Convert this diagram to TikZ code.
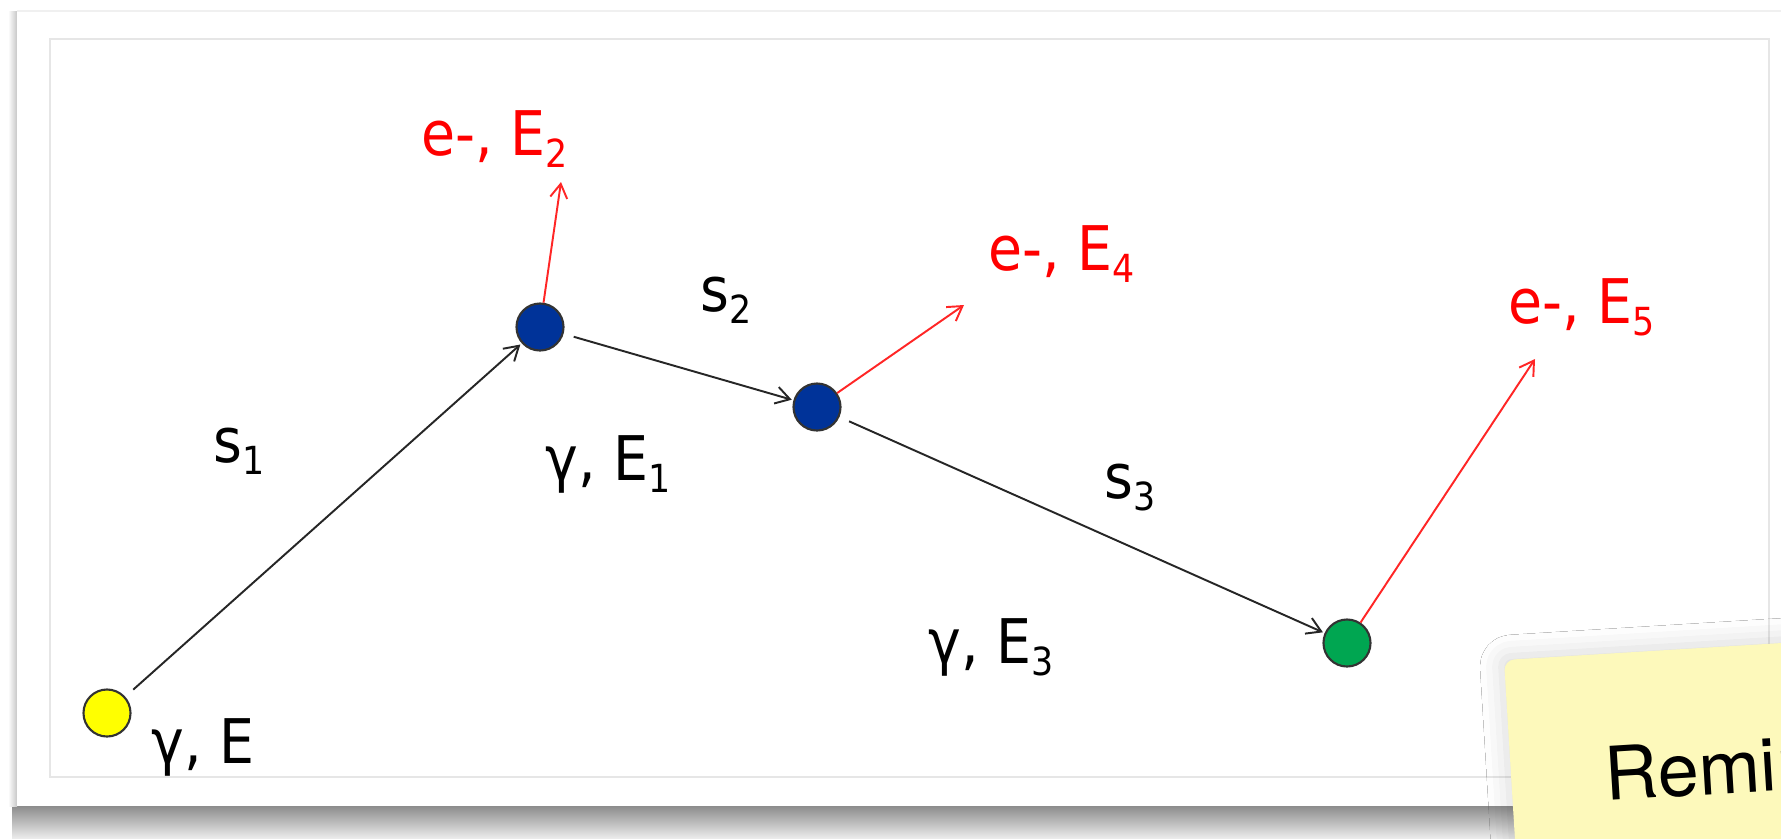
\documentclass[tikz,border=0pt]{standalone}
\usepackage{fontspec}
\setmainfont{DejaVu Sans}[FakeStretch=0.9]
\newfontfamily\notefont{TeX Gyre Heros}
\usepackage{tikz}
\usetikzlibrary{arrows.meta, positioning, shadows.blur}
\definecolor{dotyellow}{HTML}{FFFF00}
\definecolor{dotblue}{HTML}{003399}
\definecolor{dotgreen}{HTML}{00A651}
\definecolor{elred}{HTML}{FF0000}
\definecolor{notefill}{HTML}{FDF9BB}
\definecolor{framegray}{HTML}{E6E6E6}
\newcommand\idx[1]{\raisebox{-0.21em}{\fontsize{11}{11}\selectfont #1}}

\begin{document}
\begin{tikzpicture}[x=0.01cm, y=-0.01cm,
  dot/.style={circle, draw=black!80, line width=0.6pt, minimum size=0.47cm, inner sep=0pt},
  lbl/.style={font=\fontsize{17.5}{21}\selectfont, inner sep=0pt, anchor=base west},
  track/.style={-{Straight Barb[length=1.4mm,width=1.7mm]}, line width=0.55pt, color=black!85,
                shorten <=3pt, shorten >=0.5pt},
  emit/.style={-{Straight Barb[length=1.4mm,width=1.7mm]}, line width=0.55pt, color=elred!85}
]
\path[use as bounding box] (0,0) rectangle (1781,838);
\clip (0,0) rectangle (1781,838);

\shade[top color=black!45, bottom color=black!8] (12,806) rectangle (1781,838);
\shade[left color=white, right color=black!22] (8,11) rectangle (17,806);
\fill[white] (17,11) rectangle (1781,806);
\draw[black!6] (17,11) -- (1781,11);
\draw[framegray] (50,39) rectangle (1769,777);

\node[dot, fill=dotyellow] (y0) at (107,713)  {};
\node[dot, fill=dotblue]   (b1) at (540,327)  {};
\node[dot, fill=dotblue]   (b2) at (817,407)  {};
\node[dot, fill=dotgreen]  (g3) at (1347,643) {};

\coordinate (t2) at (561,182);
\coordinate (t4) at (964,305);
\coordinate (t5) at (1535,359);

\foreach \x/\y in {y0/b1,b1/b2,b2/g3} \draw[track] (\x)--(\y);
\foreach \x/\y in {b1/t2,b2/t4,g3/t5} \draw[emit] (\x)--(\y);

\node[lbl] (s1) at (213,462)  {s\idx{1}};
\node[lbl] (s2) at (700,311)  {s\idx{2}};
\node[lbl] (s3) at (1104,498) {s\idx{3}};
\node[lbl] (gE)  at (151,763) {γ, E};
\node[lbl] (gE1) at (545,480) {γ, E\idx{1}};
\node[lbl] (gE3) at (928,663) {γ, E\idx{3}};
\node[lbl, text=elred] (eE2) at (421,155)  {e-, E\idx{2}};
\node[lbl, text=elred] (eE4) at (988,270)  {e-, E\idx{4}};
\node[lbl, text=elred] (eE5) at (1508,323) {e-, E\idx{5}};

\fill[notefill, rounded corners=3pt,
      blur shadow={shadow xshift=-1pt, shadow yshift=1pt, shadow blur radius=6pt, shadow opacity=15},
      rotate around={3.5:(1504,660)}] (1504,660) rectangle (1900,950);
\node[font=\notefont\fontsize{21}{25}\selectfont, anchor=base west, inner sep=0pt, rotate=3.5]
  (rem) at (1606,801) {Remin};
\end{tikzpicture}
\end{document}
